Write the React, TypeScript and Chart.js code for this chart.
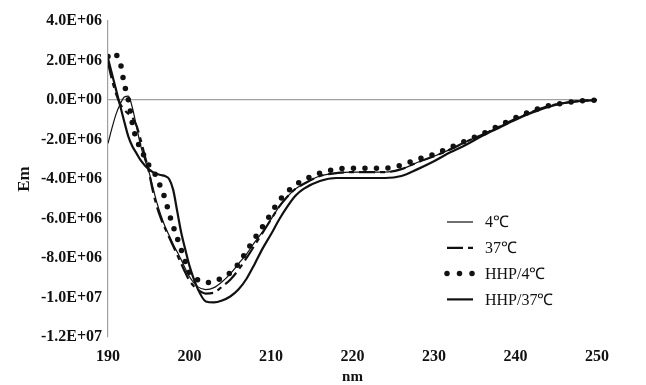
import { useEffect, useRef } from "react";
import { Chart, registerables } from "chart.js";

Chart.register(...registerables);

// wavelength (nm)
const wavelengths = [
  190, 190.5, 191, 191.5, 192, 192.5, 193, 193.5, 194, 194.5, 195, 195.5, 196, 196.5, 197, 197.5,
  198, 198.5, 199, 199.5, 200, 201, 202, 203, 204, 205, 206, 207, 208, 209, 210, 211, 212, 213, 214, 216,
  218, 220, 222, 224, 226, 228, 230, 232, 234, 236, 238, 240, 242, 244, 246, 248, 250,
];

// Em values in units of 1E+06
const em4C = [
  -2.2, -1.4, -0.7, -0.2, 0.15, 0.2, -0.4, -1.35, -2.3, -3.0, -3.6, -4.4, -5.2, -5.85, -6.4, -6.85,
  -7.3, -7.7, -8.1, -8.55, -8.95, -9.45, -9.6, -9.5, -9.2, -8.8, -8.3, -7.8, -7.2, -6.65, -6.05, -5.4, -4.9, -4.5, -4.25, -3.85,
  -3.7, -3.65, -3.65, -3.65, -3.5, -3.15, -2.85, -2.5, -2.1, -1.75, -1.35, -0.95, -0.6, -0.32, -0.15, -0.05, 0,
];
const em37C = [
  1.9, 1.0, 0.3, -0.2, -0.5, -0.7, -0.9, -1.3, -2.0, -2.8, -3.6, -4.6, -5.4, -6.0, -6.5, -6.95,
  -7.4, -7.85, -8.3, -8.75, -9.15, -9.6, -9.8, -9.75, -9.45, -9.1, -8.6, -8.0, -7.35, -6.7, -6.05, -5.4, -4.9, -4.5, -4.25, -3.85,
  -3.7, -3.65, -3.65, -3.65, -3.5, -3.15, -2.85, -2.5, -2.1, -1.75, -1.35, -0.95, -0.6, -0.32, -0.15, -0.05, 0,
];
const emHHP4C = [
  2.2, 2.4, 2.3, 1.9, 0.8, 0.0, -1.2, -2.0, -2.45, -2.9, -3.3, -3.55, -3.95, -4.45, -5.0, -5.75,
  -6.4, -7.0, -7.6, -8.2, -8.75, -9.1, -9.25, -9.2, -9.0, -8.75, -8.3, -7.65, -7.0, -6.4, -5.75, -5.1, -4.65, -4.3, -4.05, -3.7,
  -3.5, -3.45, -3.45, -3.45, -3.3, -3.0, -2.75, -2.4, -2.05, -1.7, -1.3, -0.9, -0.55, -0.3, -0.15, -0.05, 0,
];
const emHHP37C = [
  2.1, 1.3, 0.5, -0.3, -1.1, -1.85, -2.35, -2.7, -3.05, -3.3, -3.5, -3.65, -3.75, -3.8, -3.85, -4.0,
  -4.55, -5.65, -6.75, -7.6, -8.4, -9.55, -10.2, -10.25, -10.15, -9.95, -9.6, -9.05, -8.3, -7.5, -6.8, -6.05, -5.4, -4.85, -4.5, -4.1,
  -3.95, -3.95, -3.95, -3.95, -3.85, -3.5, -3.1, -2.65, -2.25, -1.8, -1.4, -1.0, -0.65, -0.35, -0.15, -0.05, 0,
];

const seriesLabels = ["4℃", "37℃", "HHP/4℃", "HHP/37℃"];
const xTitle = "nm";
const yTitle = "Em";

const toPoints = (vals: number[]) => vals.map((v, i) => ({ x: wavelengths[i], y: v * 1e6 }));

const formatSci = (v: number) => {
  if (v === 0) return "0.0E+00";
  const sign = v < 0 ? "-" : "";
  const a = Math.abs(v);
  const e = Math.floor(Math.log10(a) + 1e-9);
  const m = a / Math.pow(10, e);
  const es = (e < 0 ? "-" : "+") + String(Math.abs(e)).padStart(2, "0");
  return `${sign}${m.toFixed(1)}E${es}`;
};

const legendPlugin = {
  id: "insideLegend",
  afterDatasetsDraw(chart: any) {
    const { ctx, chartArea } = chart;
    const x0 = chartArea.left + 339;
    const y0 = chartArea.top + 201;
    chart.data.datasets.forEach((ds: any, i: number) => {
      const y = y0 + i * 25.8;
      ctx.save();
      ctx.strokeStyle = ds.borderColor;
      ctx.lineWidth = ds.borderWidth;
      ctx.setLineDash(ds.legendDash || ds.borderDash || []);
      ctx.lineCap = ds.borderCapStyle || "butt";
      ctx.beginPath();
      ctx.moveTo(x0, y);
      ctx.lineTo(x0 + 26, y);
      ctx.stroke();
      ctx.setLineDash([]);
      ctx.fillStyle = "#111";
      ctx.font = '16px "Liberation Serif", "Times New Roman", serif';
      ctx.textBaseline = "middle";
      ctx.textAlign = "left";
      ctx.fillText(ds.label, x0 + 38, y + 1);
      ctx.restore();
    });
  },
};

export default function App() {
  const ref = useRef<HTMLCanvasElement | null>(null);

  useEffect(() => {
    if (!ref.current) return;
    const base = {
      pointRadius: 0,
      fill: false,
      borderColor: "#111",
      cubicInterpolationMode: "monotone" as const,
    };
    const tickFont = { family: '"Liberation Serif", serif', size: 16, weight: "bold" as const };
    const chart = new Chart(ref.current, {
      type: "line",
      data: {
        datasets: [
          { ...base, label: seriesLabels[0], data: toPoints(em4C), borderWidth: 1.2 },
          {
            ...base,
            label: seriesLabels[1],
            data: toPoints(em37C),
            borderWidth: 2.2,
            borderDash: [16, 5, 5, 5],
          },
          {
            ...base,
            label: seriesLabels[2],
            data: toPoints(emHHP4C),
            borderWidth: 5.5,
            borderDash: [0, 11.5],
            borderCapStyle: "round",
            legendDash: [0, 12.5],
          } as any,
          { ...base, label: seriesLabels[3], data: toPoints(emHHP37C), borderWidth: 2.2 },
        ],
      },
      options: {
        responsive: false,
        animation: false,
        layout: { padding: { left: 0, right: 49, top: 21, bottom: 0 } },
        plugins: { legend: { display: false }, tooltip: { enabled: false } },
        scales: {
          x: {
            type: "linear",
            min: 190,
            max: 250,
            afterFit: (s: any) => {
              s.height = 48;
            },
            ticks: { stepSize: 10, padding: 10, color: "#111", font: tickFont },
            grid: { display: false, drawTicks: false },
            border: { display: false },
            title: {
              display: true,
              text: xTitle,
              color: "#111",
              padding: { top: 0, bottom: 0 },
              font: { family: '"Liberation Serif", serif', size: 15, weight: "bold", lineHeight: 1 },
            },
          },
          y: {
            type: "linear",
            min: -12e6,
            max: 4e6,
            afterFit: (s: any) => {
              s.width = 108;
            },
            ticks: {
              stepSize: 2e6,
              padding: 6,
              color: "#111",
              callback: (v: any) => formatSci(Number(v)),
              font: tickFont,
            },
            grid: {
              drawTicks: false,
              color: (c: any) => (c.tick && c.tick.value === 0 ? "#a0a0a0" : "rgba(0,0,0,0)"),
              lineWidth: 1.2,
            },
            border: { display: true, color: "#a0a0a0", width: 1.2 },
            title: {
              display: true,
              text: yTitle,
              color: "#111",
              padding: { top: 14, bottom: 0 },
              font: { family: '"Liberation Serif", serif', size: 17, weight: "bold" },
            },
          },
        },
      },
      plugins: [legendPlugin],
    });
    return () => chart.destroy();
  }, []);

  return (
    <div style={{ width: 646, height: 385, background: "#fff" }}>
      <style>{`body{margin:0;background:#fff}`}</style>
      <canvas ref={ref} width={646} height={385} />
    </div>
  );
}
